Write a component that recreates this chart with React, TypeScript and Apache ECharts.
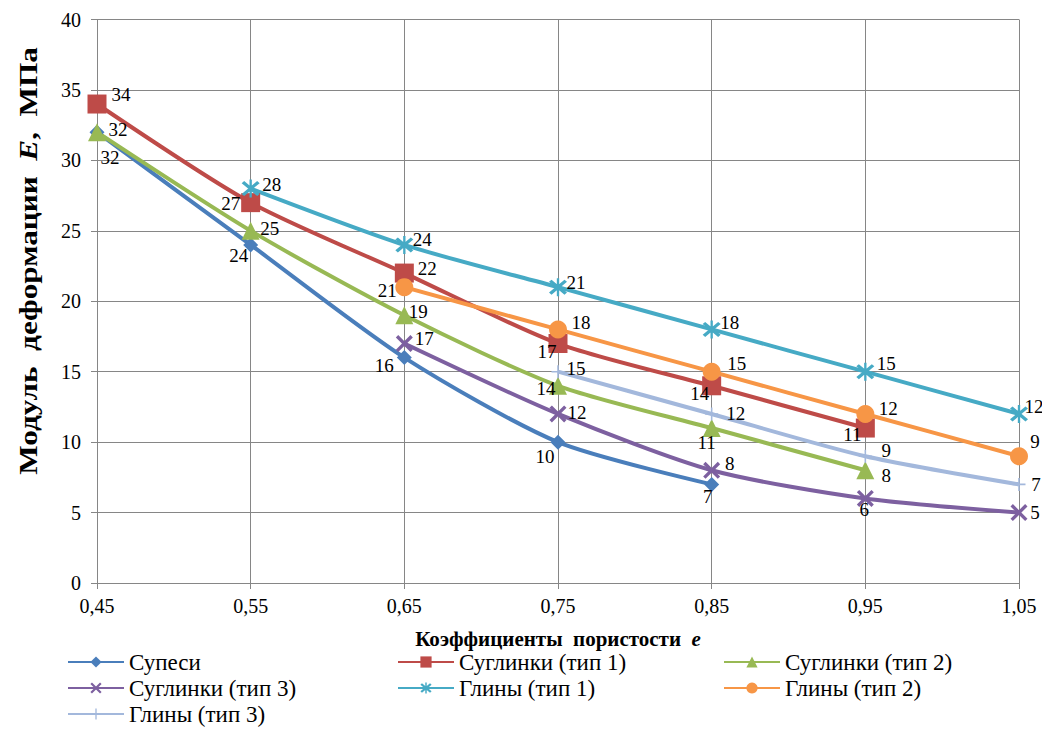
import React, { useEffect, useRef } from "react";
import * as echarts from "echarts";

const categories = ["0,45", "0,55", "0,65", "0,75", "0,85", "0,95", "1,05"];

const supesi = [32, 24, 16, 10, 7, null, null];
const suglinki1 = [34, 27, 22, 17, 14, 11, null];
const suglinki2 = [32, 25, 19, 14, 11, 8, null];
const suglinki3 = [null, null, 17, 12, 8, 6, 5];
const gliny1 = [null, 28, 24, 21, 18, 15, 12];
const gliny2 = [null, null, 21, 18, 15, 12, 9];
const gliny3 = [null, null, null, 15, 12, 9, 7];

const seriesNames = [
  "Супеси",
  "Суглинки (тип 1)",
  "Суглинки (тип 2)",
  "Суглинки (тип 3)",
  "Глины (тип 1)",
  "Глины (тип 2)",
  "Глины (тип 3)",
];

// label offsets (style only): [dx, dy] of label centre from point
const labelOffsets: (number[] | null)[][] = [
  [[13, 25], [-12, 11], [-20, 8], [-13, 14], [-4, 12], null, null],
  [[24, -10], [-20, 1], [23, -5], [-11, 8], [-12, 8], [-13, 6], null],
  [[21, -3], [19, -2], [14, -4], [-12, 3], [-5, 14], [21, 5], null],
  [null, null, [20, -5], [19, -1], [18, -7], [-1, 11], [16, 0]],
  [null, [21, -4], [18, -5], [18, -5], [18, -7], [21, -8], [15, -7]],
  [null, null, [-17, 3], [23, -7], [25, -8], [23, -5], [16, -15]],
  [null, null, null, [18, -3], [24, 0], [21, -6], [17, 0]],
];

const colors = ["#4A7EBB", "#BE4B48", "#98B954", "#7D60A0", "#46AAC5", "#F79646", "#A3B8DC"];

const X_PATH = "path://M0,1.4L1.4,0L10,8.6L8.6,10Z M8.6,0L10,1.4L1.4,10L0,8.6Z";
const STAR_PATH =
  "path://M0,1.4L1.4,0L10,8.6L8.6,10Z M8.6,0L10,1.4L1.4,10L0,8.6Z M4.35,-1L5.65,-1L5.65,11L4.35,11Z";
const PLUS_PATH = "path://M4.4,0L5.6,0L5.6,10L4.4,10Z M0,4.4L10,4.4L10,5.6L0,5.6Z";

const symbols = ["diamond", "rect", "triangle", X_PATH, STAR_PATH, "circle", PLUS_PATH];
const symbolSizes = [15, 19, 18, 17, 18, 18, 13];

const FONT = "Times New Roman";

export default function App() {
  const ref = useRef<HTMLDivElement>(null);

  useEffect(() => {
    if (!ref.current) return;
    const chart = echarts.init(ref.current, null, { renderer: "svg" });
    const allData = [supesi, suglinki1, suglinki2, suglinki3, gliny1, gliny2, gliny3];

    const series = allData.map((arr, si) => ({
      name: seriesNames[si],
      type: "line",
      smooth: 0.25,
      connectNulls: false,
      symbol: symbols[si],
      symbolSize: symbolSizes[si],
      showAllSymbol: true,
      lineStyle: { width: 4, color: colors[si] },
      itemStyle: { color: colors[si], borderWidth: 0 },
      label: {
        show: true,
        position: "inside",
        color: "#000",
        fontSize: 19,
        fontFamily: FONT,
        fontWeight: "normal",
        align: "center",
        verticalAlign: "middle",
      },
      data: arr.map((v, i) =>
        v === null
          ? "-"
          : {
              value: v,
              label: { offset: labelOffsets[si][i] || [15, 0] },
            }
      ),
    }));

    const legendBase = {
      orient: "vertical",
      top: 645,
      itemWidth: 56,
      itemHeight: 14,
      itemGap: 2,
      textStyle: { fontSize: 23, fontFamily: FONT, fontWeight: "normal", color: "#000", lineHeight: 24 },
    };

    chart.setOption({
      animation: false,
      color: colors,
      textStyle: { fontFamily: FONT },
      grid: { left: 97, right: 23, top: 19.5, bottom: 157, containLabel: false },
      xAxis: {
        type: "category",
        data: categories,
        boundaryGap: false,
        axisLine: { lineStyle: { color: "#868686", width: 1 } },
        axisTick: { show: true, length: 6, alignWithLabel: true, lineStyle: { color: "#868686" } },
        axisLabel: { fontSize: 20, fontFamily: FONT, fontWeight: "normal", color: "#000", margin: 13 },
        splitLine: { show: true, lineStyle: { color: "#868686", width: 1 } },
        name: "Коэффициенты  пористости  {i|e}",
        nameLocation: "middle",
        nameGap: 45,
        nameTextStyle: {
          fontSize: 21,
          fontWeight: "bold",
          fontFamily: FONT,
          color: "#000",
          rich: { i: { fontSize: 21, fontWeight: "bold", fontStyle: "italic", fontFamily: FONT, color: "#000" } },
        },
      },
      yAxis: {
        type: "value",
        min: 0,
        max: 40,
        interval: 5,
        axisLine: { show: true, lineStyle: { color: "#868686", width: 1 } },
        axisTick: { show: true, length: 6, lineStyle: { color: "#868686" } },
        axisLabel: { fontSize: 20, fontFamily: FONT, fontWeight: "normal", color: "#000", margin: 16 },
        splitLine: { show: true, lineStyle: { color: "#868686", width: 1 } },
      },
      legend: [
        { ...legendBase, left: 62, data: [seriesNames[0], seriesNames[3], seriesNames[6]] },
        { ...legendBase, left: 392, data: [seriesNames[1], seriesNames[4]] },
        { ...legendBase, left: 718, data: [seriesNames[2], seriesNames[5]] },
      ],
      graphic: [
        {
          type: "text",
          x: 28,
          y: 261,
          rotation: Math.PI / 2,
          scaleX: 1.2,
          style: {
            text: "Модуль  деформации  {i|E},  МПа",
            fontSize: 26,
            fontWeight: "bold",
            fontFamily: FONT,
            fill: "#000",
            align: "center",
            verticalAlign: "middle",
            rich: { i: { fontSize: 26, fontWeight: "bold", fontStyle: "italic", fontFamily: FONT, fill: "#000" } },
          },
        },
      ],
      series,
    });
    return () => chart.dispose();
  }, []);

  return (
    <div
      ref={ref}
      style={{ position: "absolute", left: 0, top: 0, width: 1042, height: 740, background: "#fff" }}
    />
  );
}
